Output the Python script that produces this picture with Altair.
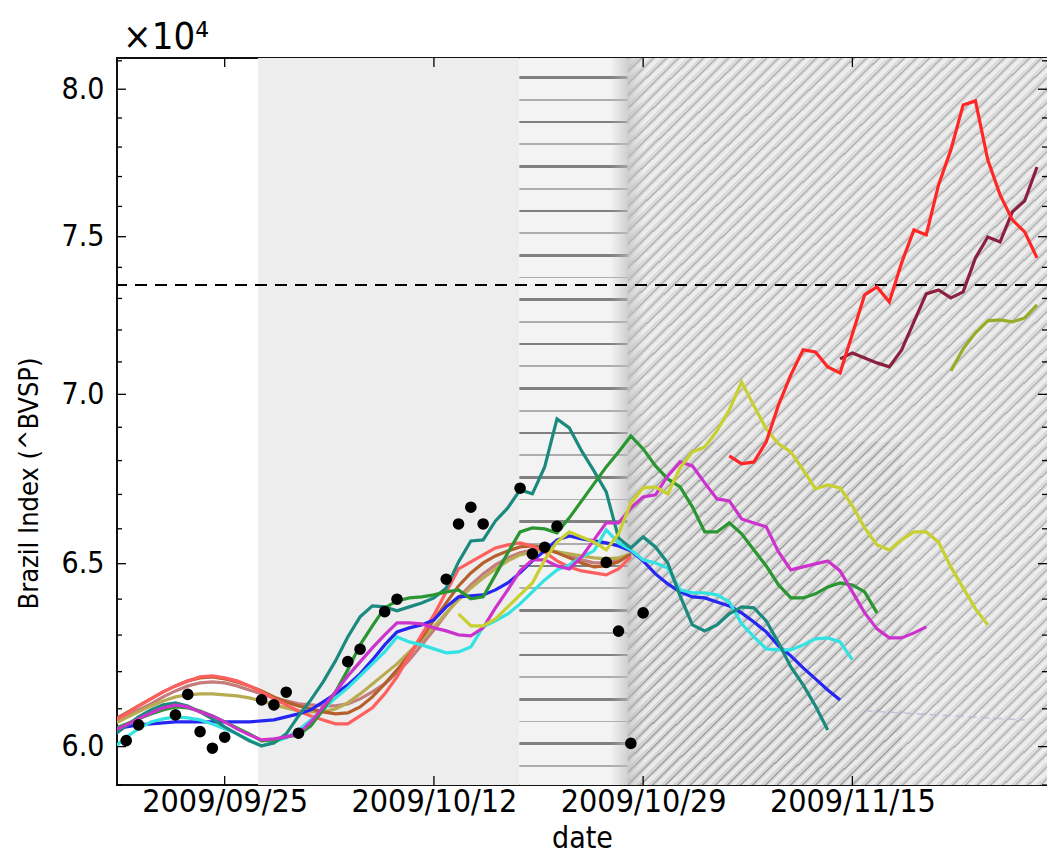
import altair as alt
import pandas as pd

FONT = "DejaVu Sans Condensed, DejaVu Sans"
W, H = 930, 727

# ---------------- data ----------------
# forecast trajectories: first date and one value per day
series_names = ["rosy", "khaki", "brown", "salmon", "blue", "cyan", "teal",
                "green", "magenta", "yellow", "olive", "darkred", "red"]
series_colors = ["#c47c7c", "#b9ab52", "#b5602c", "#ff5f5f", "#2626f2", "#33e3e3", "#1b8a7e",
                 "#2a9632", "#cc33cc", "#c8d030", "#98ac2a", "#8b2040", "#ff2626"]
series_starts = ["2009-09-16", "2009-09-16", "2009-09-16", "2009-09-16", "2009-09-16",
                 "2009-09-16", "2009-09-16", "2009-09-16", "2009-09-16", "2009-10-14",
                 "2009-11-23", "2009-11-14", "2009-11-05"]

rosy_vals = [60652, 60811, 60971, 61131, 61319, 61480, 61615, 61696, 61723, 61696, 61615, 61507,
             61400, 61292, 61212, 61131, 61105, 61078, 61078, 61131, 61265, 61453, 61669, 61967,
             62320, 62731, 63144, 63588, 64034, 64399, 64710, 64965, 65165, 65308, 65393, 65393,
             65336, 65222, 65108, 65022, 65022, 65108, 65251]
khaki_vals = [60599, 60758, 60918, 61078, 61212, 61319, 61373, 61400, 61400, 61373, 61346, 61292,
              61212, 61105, 61025, 60944, 60918, 60918, 60998, 61158, 61400, 61669, 61940, 62211,
              62539, 62868, 63227, 63615, 63978, 64315, 64597, 64852, 65080, 65251, 65336, 65365,
              65336, 65279, 65222, 65165, 65137, 65165, 65279]
brown_vals = [60705, 60891, 61078, 61265, 61453, 61615, 61750, 61831, 61858, 61804, 61723, 61615,
              61480, 61319, 61185, 61078, 60998, 60918, 60864, 60891, 61051, 61319, 61669, 62048,
              62458, 62923, 63421, 63894, 64371, 64738, 65022, 65222, 65365, 65479, 65508, 65451,
              65308, 65165, 65022, 64908, 64937, 65051, 65279]
salmon_vals = [60679, 60864, 61078, 61265, 61453, 61615, 61750, 61858, 61885, 61831, 61750, 61615,
               61453, 61265, 61105, 60944, 60811, 60705, 60599, 60599, 60811, 61025, 61400, 61858,
               62430, 63006, 63560, 64203, 64852, 65051, 65251, 65450, 65537, 65594, 65508, 65336,
               65080, 64908, 64795, 64738, 64682, 64852, 65194]
blue_vals = [60467, 60520, 60573, 60599, 60626, 60652, 60652, 60652, 60652, 60652, 60652, 60652,
             60679, 60705, 60785, 60864, 60971, 61185, 61400, 61642, 61940, 62320, 62731, 63089,
             63199, 63282, 63421, 63783, 64062, 64090, 64119, 64259, 64455, 64738, 65080, 65365,
             65680, 65795, 65709, 65651, 65594, 65508, 65365, 65080, 64710, 64427, 64203, 64062,
             64034, 63922, 63811, 63615, 63365, 63089, 62704, 62430, 62102, 61804, 61507, 61239]
cyan_vals = [59965, 60255, 60467, 60652, 60732, 60785, 60758, 60705, 60599, 60467, 60335, 60176,
             60018, 60123, 60229, 60440, 60705, 60971, 61292, 61561, 61885, 62211, 62539, 62950,
             62813, 62731, 62621, 62512, 62539, 62676, 63227, 63393, 63588, 63866, 64203, 64540,
             64823, 64965, 65194, 65365, 65968, 65594, 65393, 65108, 65022, 64880, 64259, 64175,
             64175, 64119, 63922, 63310, 62950, 62621, 62594, 62594, 62731, 62895, 62923, 62813,
             62320]
teal_vals = [60308, 60546, 60785, 60971, 61105, 61158, 61078, 60918, 60732, 60520, 60335, 60150,
             60018, 60097, 60335, 60811, 61239, 61723, 62293, 62950, 63504, 63811, 63783, 63671,
             63783, 63894, 64034, 64315, 65051, 65651, 65680, 66228, 66606, 67133, 67016, 67812,
             69251, 68979, 68288, 67693, 67074, 65737, 65451, 65766, 65479, 65022, 64090, 63282,
             63116, 63282, 63588, 63783, 63755, 63393, 62786, 62129, 61642, 61078, 60440]
green_vals = [60467, 60599, 60732, 60864, 60971, 61051, 61025, 60944, 60811, 60652, 60493, 60335,
              60150, 60176, 60255, 60308, 60546, 60971, 61453, 62048, 62731, 63254, 63755, 63950,
              64034, 64062, 64119, 64203, 64259, 64006, 64062, 64682, 65308, 65910, 66026, 65997,
              65882, 66316, 66811, 67310, 67812, 68258, 68738, 68348, 67842, 67456, 67221, 66636,
              65910, 65910, 66170, 65853, 65393, 64937, 64399, 64034, 64034, 64147, 64343, 64455,
              64399, 64203, 63615]
magenta_vals = [60414, 60573, 60732, 60891, 61025, 61105, 61051, 60918, 60811, 60652, 60467, 60308,
                60176, 60202, 60255, 60335, 60652, 61051, 61453, 61885, 62265, 62649, 63006, 63338,
                63338, 63310, 63199, 63116, 63006, 62978, 63199, 63755, 64259, 64795, 65108, 65108,
                64937, 64852, 65194, 65680, 66170, 66170, 66606, 66928, 66987, 67545, 67960, 67842,
                67339, 66869, 66811, 66286, 66170, 66055, 65336, 64823, 64908, 64994, 65080, 64795,
                64203, 63615, 63171, 62923, 62923, 63061, 63226]
yellow_vals = [63588, 63254, 63254, 63449, 63783, 64119, 64455, 65108, 65622, 65910, 65766, 65622,
               65393, 65853, 66752, 67192, 67221, 67016, 67782, 68258, 68408, 68889, 69525, 70382,
               69647, 68949, 68498, 68258, 67723, 67162, 67280, 67192, 66665, 66026, 65537, 65393,
               65680, 65910, 65910, 65622, 64908, 64315, 63727, 63282]
olive_vals = [70722, 71406, 71908, 72286, 72318, 72255, 72381, 72795]
darkred_vals = [71094, 71281, 71125, 70970, 70846, 71375, 72255, 73146, 73274, 73018, 73210, 74307,
                74992, 74829, 75818, 76184, 77325]
red_vals = [68140, 67900, 67960, 68558, 69677, 70598, 71375, 71313, 70846, 70660, 71876, 73114,
            73370, 72890, 74145, 75223, 75058, 76719, 77903, 79452, 79591, 77563, 76384, 75553,
            75157, 74307]

series_values = [rosy_vals, khaki_vals, brown_vals, salmon_vals, blue_vals, cyan_vals, teal_vals,
                 green_vals, magenta_vals, yellow_vals, olive_vals, darkred_vals, red_vals]

# observed closes (black dots)
obs_dates = ["2009-09-17", "2009-09-18", "2009-09-21", "2009-09-22", "2009-09-23", "2009-09-24",
             "2009-09-25", "2009-09-28", "2009-09-29", "2009-09-30", "2009-10-01", "2009-10-05",
             "2009-10-06", "2009-10-08", "2009-10-09", "2009-10-13", "2009-10-14", "2009-10-15",
             "2009-10-16", "2009-10-19", "2009-10-20", "2009-10-21", "2009-10-22", "2009-10-26",
             "2009-10-27", "2009-10-28", "2009-10-29"]
obs_vals = [60157, 60573, 60838, 61386, 60395, 59957, 60247, 61239, 61105, 61445, 60352, 62273,
            62612, 63650, 63998, 64560, 66140, 66627, 66140, 67183, 65279, 65470, 66069, 65037,
            63111, 60084, 63615]

# faint dashed trace in the shaded area
faint_dates = ["2009-11-16", "2009-11-29"]
faint_vals = [60950, 60700]

# reference level (dashed)
ref_level = [73434]

# shaded background periods
region_start = ["2009-09-27T17:00", "2009-10-18T22:30", "2009-10-27T18:00"]
region_end = ["2009-10-18T22:30", "2009-10-27T18:00", "2009-11-30T19:30"]
blend_start = ["2009-10-26T08:00"]
blend_end = ["2009-10-29T03:00"]
# lighter patches inside the hatched period
light_start = ["2009-10-27T18:00", "2009-11-19T00:00"]
light_end = ["2009-11-19T00:00", "2009-11-30T19:30"]
light_low = [68558, 59000]
light_high = [81100, 81100]

# axis ticks
y_major = [60000, 65000, 70000, 75000, 80000]
y_minor = [59000, 61000, 62000, 63000, 64000, 66000, 67000, 68000, 69000, 71000, 72000,
           73000, 74000, 76000, 77000, 78000, 79000, 81000]
x_tick_dates = ["2009-09-25", "2009-10-12", "2009-10-29", "2009-11-15"]

# ---------------- tables ----------------
rows = []
for name, start, vals in zip(series_names, series_starts, series_values):
    for d, v in zip(pd.date_range(start, periods=len(vals), freq="D"), vals):
        rows.append({"date": d, "value": v, "series": name})
line_df = pd.DataFrame(rows)
obs_df = pd.DataFrame({"date": pd.to_datetime(obs_dates), "value": obs_vals})
faint_df = pd.DataFrame({"date": pd.to_datetime(faint_dates), "value": faint_vals})
ref_df = pd.DataFrame({"value": ref_level})
reg_df = pd.DataFrame({"date": pd.to_datetime(region_start), "end": pd.to_datetime(region_end)})
blend_df = pd.DataFrame({"date": pd.to_datetime(blend_start), "end": pd.to_datetime(blend_end)})
light_df = pd.DataFrame({"date": pd.to_datetime(light_start), "end": pd.to_datetime(light_end),
                         "value": light_low, "top": light_high})
ymaj_df = pd.DataFrame({"value": y_major})
ymin_df = pd.DataFrame({"value": y_minor})
xt_df = pd.DataFrame({"date": pd.to_datetime(x_tick_dates)})


# ---------------- fills (styles) ----------------
def hatch_fill(w, h, period, bands):
    r = w / h
    b = (1 + r) / (1 + r * r)
    a = r * b
    span = w + h
    stops = []
    k = 0
    while k * period < span:
        base = k * period
        for s, e, col in bands:
            stops.append(alt.GradientStop(offset=min(1.0, (base + s) / span), color=col))
            stops.append(alt.GradientStop(offset=min(1.0, (base + e) / span), color=col))
        k += 1
    return alt.LinearGradient(gradient="linear", stops=stops, x1=0, y1=0, x2=a, y2=b)


def rows_fill(h, first, spacing, bg, dark, light):
    stops = [alt.GradientStop(offset=0, color=bg)]
    y, k = first, 0
    while y < h - 1:
        col, t = (dark, 1.3) if k % 2 == 0 else (light, 0.9)
        for off, c in [((y - t) / h, bg), ((y - t) / h, col), ((y + t) / h, col), ((y + t) / h, bg)]:
            stops.append(alt.GradientStop(offset=off, color=c))
        y += spacing
        k += 1
    stops.append(alt.GradientStop(offset=1, color=bg))
    return alt.LinearGradient(gradient="linear", stops=stops, x1=0, y1=0, x2=0, y2=1)


hatch = hatch_fill(412, H, 12.3, [(0, 2.0, "#a6a6a6"), (2.0, 3.8, "#d4d4d4"),
                                  (3.8, 8.8, "#eaeaea"), (8.8, 12.3, "#d4d4d4")])
dashrows = rows_fill(H, 19.7, 22.2, "#f3f3f3", "#808080", "#adadad")
blend = alt.LinearGradient(gradient="linear", x1=0, y1=0, x2=1, y2=0, stops=[
    alt.GradientStop(offset=0, color="rgba(190,190,190,0)"),
    alt.GradientStop(offset=0.5, color="rgba(185,185,185,0.6)"),
    alt.GradientStop(offset=1, color="rgba(190,190,190,0)")])

# ---------------- scales / axes ----------------
x_scale = alt.Scale(domain=[alt.DateTime(year=2009, month=9, date=16, hours=6),
                            alt.DateTime(year=2009, month=11, date=30, hours=19, minutes=30)])
y_scale = alt.Scale(type="log", domain=[59000, 81100])

x_axis = alt.Axis(values=[alt.DateTime(year=2009, month=9, date=25),
                          alt.DateTime(year=2009, month=10, date=12),
                          alt.DateTime(year=2009, month=10, date=29),
                          alt.DateTime(year=2009, month=11, date=15)],
                  format="%Y/%m/%d", labelFontSize=32, titleFontSize=30,
                  labelPadding=1, titleBaseline="alphabetic", titleY=62.8,
                  labelFlush=False, labelOverlap=False)
y_axis = alt.Axis(values=y_major, labelExpr="format(datum.value / 10000, '.1f')",
                  labelFontSize=30, titleFontSize=27, labelPadding=13, titlePadding=18,
                  titleY=425)


def X(f="date"):
    return alt.X(f + ":T", scale=x_scale, axis=x_axis, title="date")


def Y(f="value"):
    return alt.Y(f + ":Q", scale=y_scale, axis=y_axis, title="Brazil Index (^BVSP)")


X2 = alt.X2("end:T", title="date")

layers = []
layers.append(alt.Chart(reg_df.iloc[[0]]).mark_rect(fill="#ededed").encode(x=X(), x2=X2))
layers.append(alt.Chart(reg_df.iloc[[1]]).mark_rect(fill=dashrows).encode(x=X(), x2=X2))
layers.append(alt.Chart(reg_df.iloc[[2]]).mark_rect(fill=hatch).encode(x=X(), x2=X2))
layers.append(alt.Chart(light_df).mark_rect(fill="white", opacity=0.18).encode(
    x=X(), x2=X2, y=Y(), y2=alt.Y2("top:Q", title="Brazil Index (^BVSP)")))
layers.append(alt.Chart(blend_df).mark_rect(fill=blend).encode(x=X(), x2=X2))
layers.append(alt.Chart(ref_df).mark_rule(color="black", strokeWidth=2, strokeDash=[12, 8])
              .encode(y=Y()))
layers.append(alt.Chart(faint_df).mark_line(color="#b8b8dc", strokeWidth=1.5, strokeDash=[8, 5],
                                            opacity=0.8).encode(x=X(), y=Y()))
layers.append(alt.Chart(line_df).mark_line(strokeWidth=3.2, clip=True).encode(
    x=X(), y=Y(),
    color=alt.Color("series:N", scale=alt.Scale(domain=series_names, range=series_colors),
                    legend=None),
    order=alt.Order("date:T")))
layers.append(alt.Chart(obs_df).mark_circle(size=135, color="black", opacity=1)
              .encode(x=X(), y=Y()))
# inward ticks
tick = dict(color="black", strokeWidth=1.3)
layers.append(alt.Chart(ymaj_df).mark_rule(**tick).encode(y=Y(), x=alt.value(0), x2=alt.value(9)))
layers.append(alt.Chart(ymaj_df).mark_rule(**tick).encode(y=Y(), x=alt.value(W - 9), x2=alt.value(W)))
layers.append(alt.Chart(ymin_df).mark_rule(**tick).encode(y=Y(), x=alt.value(0), x2=alt.value(5)))
layers.append(alt.Chart(ymin_df).mark_rule(**tick).encode(y=Y(), x=alt.value(W - 5), x2=alt.value(W)))
layers.append(alt.Chart(xt_df).mark_rule(**tick).encode(x=X(), y=alt.value(H - 9), y2=alt.value(H)))
layers.append(alt.Chart(xt_df).mark_rule(**tick).encode(x=X(), y=alt.value(0), y2=alt.value(9)))

chart = alt.layer(*layers).properties(
    width=W, height=H,
    autosize=alt.AutoSizeParams(type="none"),
    padding={"left": 109, "top": 50, "right": 0, "bottom": 70},
    title=alt.TitleParams("×10⁴", anchor="start", frame="group", fontSize=38, font=FONT,
                          fontWeight="normal", offset=0, dx=6, color="black"),
).configure_view(stroke="#111111", strokeWidth=2).configure_axis(
    labelFont=FONT, titleFont=FONT, labelColor="black", titleColor="black",
    titleFontWeight="normal", grid=False, domain=False, ticks=False, tickSize=0
)

chart.save("out.html", embed_options={"renderer": "svg", "actions": False})
